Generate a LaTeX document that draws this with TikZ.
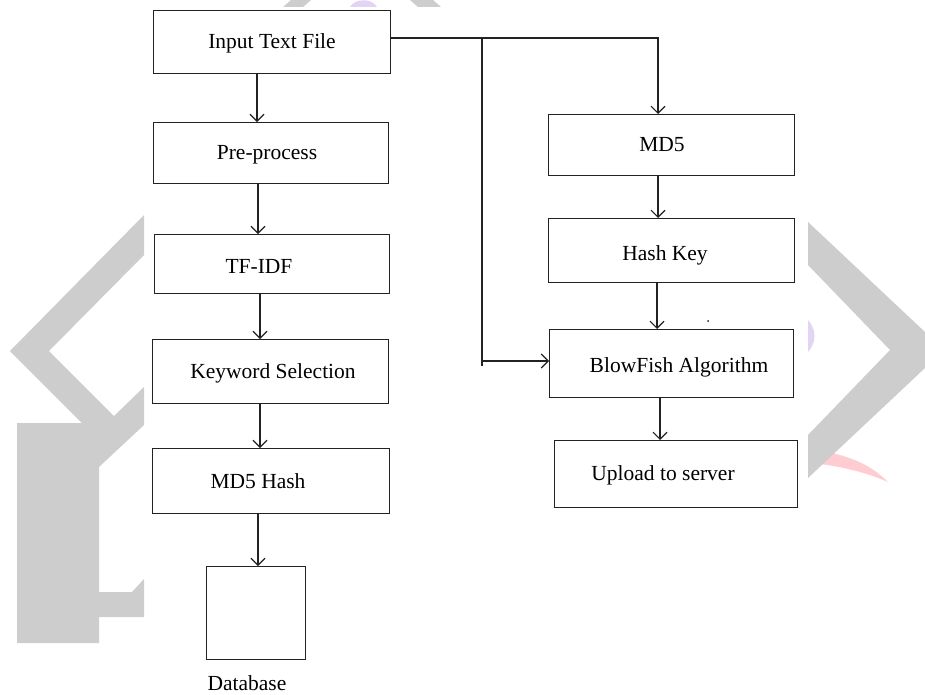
\documentclass[tikz,border=0pt]{standalone}
\usepackage{fontspec}
\setmainfont{Liberation Serif}
\usetikzlibrary{arrows.meta}
\definecolor{wmgrey}{RGB}{205,205,205}
\definecolor{wmpink}{RGB}{255,204,210}
\definecolor{wmlilac}{RGB}{226,212,244}
\definecolor{ink}{RGB}{34,34,34}
\begin{document}
\begin{tikzpicture}[x=1pt,y=-1pt,
  box/.style={draw=ink, line width=1.2pt, inner sep=0pt, anchor=north west, fill=white},
  txt/.style={anchor=base, inner sep=0pt, font=\fontsize{21.5pt}{24pt}\selectfont, text=black},
  conn/.style={draw=ink, line width=1.1pt},
  arr/.style={conn, -{Straight Barb[length=7pt,width=14pt]}}]
\useasboundingbox (0,0) rectangle (925,694);
% --- background watermark ---
\fill[wmpink] (812,450) .. controls (850,454) and (872,466) .. (888,482) .. controls (865,472) and (840,466) .. (812,463) -- cycle;
\fill[wmlilac] (804,316) .. controls (818,328) and (818,344) .. (804,356) -- cycle;
\fill[wmlilac] (350,7) .. controls (355,-2) and (372,-2) .. (377,7) -- cycle;
\fill[wmgrey] (144,215) -- (10,351) -- (82,423) -- (17,423) -- (17,643) -- (99,643) -- (99,617) -- (144,617) -- (144,579) -- (132,592) -- (99,592) -- (99,467) -- (144,425) -- (144,387) -- (114,416) -- (49,351) -- (144,255) -- cycle;
\fill[wmgrey] (808,222) -- (925,332) -- (925,368) -- (808,478) -- (808,435) -- (890,350) -- (808,265) -- cycle;
\fill[wmgrey] (283,7) -- (291,0) -- (311,0) -- (303,7) -- cycle;
\fill[wmgrey] (410,0) -- (433,0) -- (441,7) -- (418,7) -- cycle;
\fill[white] (145,7) rectangle (808,694);
% --- boxes ---
\node[box, minimum width=237pt, minimum height=63pt] (in) at (153,10) {};
\node[box, minimum width=235pt, minimum height=61pt] (pre) at (153,122) {};
\node[box, minimum width=235pt, minimum height=59pt] (tfidf) at (154,234) {};
\node[box, minimum width=236pt, minimum height=64pt] (kw) at (152,339) {};
\node[box, minimum width=237pt, minimum height=65pt] (mdh) at (152,448) {};
\node[box, minimum width=99pt, minimum height=93pt] (db) at (206,566) {};
\node[box, minimum width=246pt, minimum height=61pt] (md5) at (548,114) {};
\node[box, minimum width=246pt, minimum height=64pt] (hk) at (548,218) {};
\node[box, minimum width=244pt, minimum height=68pt] (bf) at (549,329) {};
\node[box, minimum width=243pt, minimum height=67pt] (up) at (554,440) {};
% --- texts ---
\node[txt] (tin) at (272,48) {Input Text File};
\node[txt] (tpre) at (267,159) {Pre-process};
\node[txt] (ttf) at (259,273) {TF-IDF};
\node[txt] (tkw) at (273,378) {Keyword Selection};
\node[txt] (tmdh) at (258,488) {MD5 Hash};
\node[txt] (tdb) at (247,690) {Database};
\node[txt] (tmd5) at (662,151) {MD5};
\node[txt] (thk) at (665,260) {Hash Key};
\node[txt] (tbf) at (679,372) {BlowFish Algorithm};
\node[txt] (tup) at (663,480) {Upload to server};
% --- connectors ---
\draw[arr] (257,0 |- in.south) -- (257,0 |- pre.north);
\draw[arr] (258,0 |- pre.south) -- (258,0 |- tfidf.north);
\draw[arr] (260,0 |- tfidf.south) -- (260,0 |- kw.north);
\draw[arr] (260,0 |- kw.south) -- (260,0 |- mdh.north);
\draw[arr] (258,0 |- mdh.south) -- (258,0 |- db.north);
\draw[arr] (in.north east |- 0,38) -- (658,38) -- (658,0 |- md5.north);
\coordinate (br) at (482,38);
\coordinate (brend) at (482,366);
\draw[conn] (br) -- (brend);
\draw[arr] (482,361) -- (bf.west |- 0,361);
\draw[arr] (658,0 |- md5.south) -- (658,0 |- hk.north);
\draw[arr] (657,0 |- hk.south) -- (657,0 |- bf.north);
\draw[arr] (660,0 |- bf.south) -- (660,0 |- up.north);
\fill[ink] (708,321) circle (1pt);
\end{tikzpicture}
\end{document}
